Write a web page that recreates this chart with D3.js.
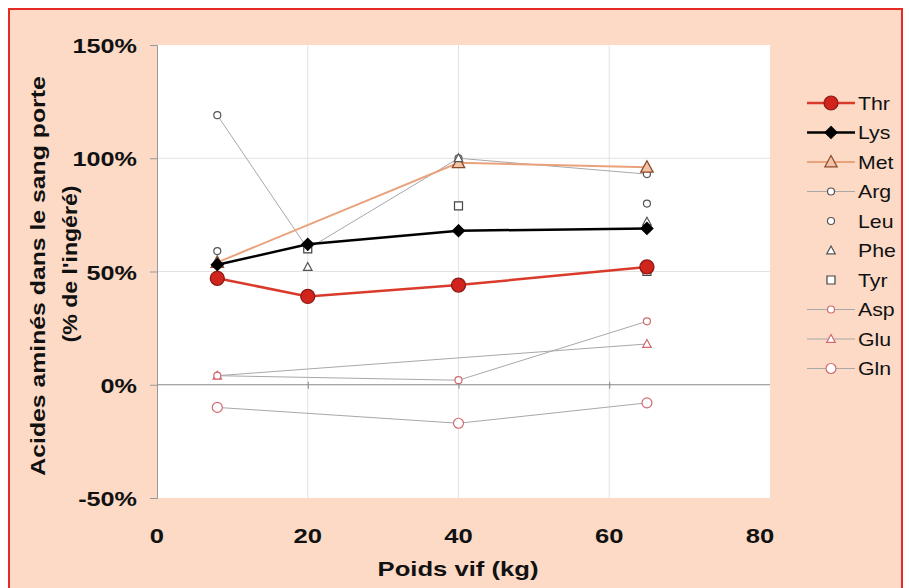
<!DOCTYPE html>
<html><head><meta charset="utf-8">
<script src="https://cdn.jsdelivr.net/npm/d3@7"></script>
<style>body{margin:0;background:#fff}svg{display:block}text{font-family:"Liberation Sans",Arial,sans-serif}</style>
</head><body><svg id="c" width="909" height="588"></svg>
<script>
const xValues = [8, 20, 40, 65];
const xTicks = [0, 20, 40, 60, 80];
const yTicks = [-0.5, 0, 0.5, 1.0, 1.5];
const seriesNames = ["Thr","Lys","Met","Arg","Leu","Phe","Tyr","Asp","Glu","Gln"];
const thr = [0.47, 0.39, 0.44, 0.52];
const lys = [0.53, 0.62, 0.68, 0.69];
const met = [0.54, null, 0.98, 0.96];
const arg = [1.19, 0.60, 1.00, 0.93];
const leu = [0.59, null, null, 0.80];
const phe = [0.54, 0.52, 1.00, 0.72];
const tyr = [null, 0.60, 0.79, 0.50];
const asp = [0.04, null, 0.02, 0.28];
const glu = [0.04, null, null, 0.18];
const gln = [-0.10, null, -0.17, -0.08];
const xTitle = "Poids vif (kg)";
const yTitle1 = "Acides aminés dans le sang porte";
const yTitle2 = "(% de l'ingéré)";

const styles = {
  Thr:{values:thr, line:"#d93a2b", lw:2.5, shape:"circle", r:7, fill:"#d0241d", stroke:"#8a1a14"},
  Lys:{values:lys, line:"#000", lw:2.5, shape:"diamond", r:6, fill:"#000", stroke:"#000"},
  Met:{values:met, line:"#eaa27c", lw:2, shape:"triangle", r:6.5, fill:"#f3c3a8", stroke:"#8a4a2a"},
  Arg:{values:arg, line:"#a8a8a8", lw:1, shape:"circle", r:3.5, fill:"#fff", stroke:"#555"},
  Leu:{values:leu, line:null, shape:"circle", r:3.5, fill:"#fff", stroke:"#555"},
  Phe:{values:phe, line:null, shape:"triangle", r:4.5, fill:"#fff", stroke:"#555"},
  Tyr:{values:tyr, line:null, shape:"square", r:4, fill:"#fff", stroke:"#444"},
  Asp:{values:asp, line:"#a8a8a8", lw:1, shape:"circle", r:3.5, fill:"#fff", stroke:"#d06a72"},
  Glu:{values:glu, line:"#a8a8a8", lw:1, shape:"triangle", r:4.5, fill:"#fff", stroke:"#d06a72"},
  Gln:{values:gln, line:"#a8a8a8", lw:1, shape:"circle", r:5, fill:"#fff", stroke:"#d06a72"}
};

function stretch(sel, f){
  sel.each(function(){
    const L = this.getComputedTextLength();
    d3.select(this).attr("textLength", L*f).attr("lengthAdjust","spacingAndGlyphs");
  });
}

const svg = d3.select("#c");
svg.append("rect").attr("x",0).attr("y",0).attr("width",909).attr("height",588).attr("fill","#fff");
svg.append("rect").attr("x",9).attr("y",9).attr("width",893).attr("height",580)
  .attr("fill","#fcdac6").attr("stroke","#e52b24").attr("stroke-width",2);

const x = d3.scaleLinear().domain([0,80]).range([157,760]);
const y = d3.scaleLinear().domain([-0.5,1.5]).range([498,45]);

svg.append("rect").attr("x",157).attr("y",45).attr("width",613).attr("height",453).attr("fill","#fff");

svg.append("g").selectAll("line").data([20,40,60]).join("line")
  .attr("x1",d=>x(d)).attr("x2",d=>x(d)).attr("y1",45).attr("y2",498)
  .attr("stroke","#e2e2e2").attr("stroke-width",1);
svg.append("g").selectAll("line").data([0.5,1.0]).join("line")
  .attr("x1",157).attr("x2",770).attr("y1",d=>y(d)).attr("y2",d=>y(d))
  .attr("stroke","#e2e2e2").attr("stroke-width",1);

const fmt = d=>d3.format(".0%")(d).replace("−","-");
const yAxis = d3.axisLeft(y).tickValues(yTicks).tickFormat(fmt).tickSize(7).tickPadding(13);
const gy = svg.append("g").attr("transform","translate(157,0)").call(yAxis);
gy.select(".domain").attr("stroke","#999");
gy.selectAll(".tick line").attr("stroke","#999");
gy.selectAll("text").attr("font-size",21).attr("font-weight","bold").attr("fill","#111").attr("dy","0.36em");
stretch(gy.selectAll("text"), 1.2);

const gz = svg.append("g").attr("transform",`translate(0,${y(0)})`)
  .call(d3.axisBottom(x).tickValues([20,40,60]).tickSize(4).tickFormat(""));
gz.select(".domain").attr("stroke","#888").attr("d",`M157,0H770`);
gz.selectAll(".tick line").attr("stroke","#888").attr("y1",-3);

const xl = svg.append("g").selectAll("text").data(xTicks).join("text")
  .attr("x",d=>x(d)).attr("y",543).attr("text-anchor","middle")
  .attr("font-size",21).attr("font-weight","bold").attr("fill","#111").text(d=>d);
stretch(xl, 1.22);

const xt = svg.append("text").attr("x",458).attr("y",576).attr("text-anchor","middle")
  .attr("font-size",21).attr("font-weight","bold").attr("fill","#111").text(xTitle);
stretch(xt, 1.22);
const yt1 = svg.append("text").attr("transform","translate(45,276) rotate(-90)").attr("text-anchor","middle")
  .attr("font-size",21).attr("font-weight","bold").attr("fill","#111").text(yTitle1);
stretch(yt1, 1.18);
const yt2 = svg.append("text").attr("transform","translate(77,264) rotate(-90)").attr("text-anchor","middle")
  .attr("font-size",21).attr("font-weight","bold").attr("fill","#111").text(yTitle2);
stretch(yt2, 1.1);

function symPath(shape, r){
  if(shape==="circle") return d3.symbol(d3.symbolCircle, Math.PI*r*r)();
  if(shape==="diamond") return `M0,${-r}L${r},0L0,${r}L${-r},0Z`;
  if(shape==="triangle") return `M0,${-r}L${r*0.95},${r*0.75}L${-r*0.95},${r*0.75}Z`;
  if(shape==="square") return `M${-r},${-r}h${2*r}v${2*r}h${-2*r}Z`;
}

const order = ["Gln","Glu","Asp","Arg","Met","Leu","Phe","Tyr","Lys","Thr"];
const lineGen = d3.line().x(d=>x(d[0])).y(d=>y(d[1]));
order.forEach(name=>{
  const s = styles[name];
  const pts = xValues.map((xv,i)=>[xv, s.values[i]]).filter(d=>d[1]!==null);
  if(s.line){
    svg.append("path").datum(pts).attr("d",lineGen).attr("fill","none")
      .attr("stroke",s.line).attr("stroke-width",s.lw);
  }
});
order.forEach(name=>{
  const s = styles[name];
  const pts = xValues.map((xv,i)=>[xv, s.values[i]]).filter(d=>d[1]!==null);
  svg.append("g").selectAll("path").data(pts).join("path")
    .attr("transform",d=>`translate(${x(d[0])},${y(d[1])})`)
    .attr("d",symPath(s.shape,s.r)).attr("fill",s.fill).attr("stroke",s.stroke)
    .attr("stroke-width",name==="Thr"||name==="Met"?1.3:1.2);
});

const lg = svg.append("g");
seriesNames.forEach((name,i)=>{
  const s = styles[name];
  const ly = 103 + i*29.5;
  if(s.line){
    lg.append("line").attr("x1",807).attr("x2",855).attr("y1",ly).attr("y2",ly)
      .attr("stroke",s.line).attr("stroke-width",s.lw);
  }
  lg.append("path").attr("transform",`translate(831,${ly})`).attr("d",symPath(s.shape,s.r))
    .attr("fill",s.fill).attr("stroke",s.stroke).attr("stroke-width",1.2);
  const t = lg.append("text").attr("x",858).attr("y",ly+6.5).attr("font-size",18.5)
    .attr("fill","#111").text(name);
  stretch(t, 1.15);
});
</script></body></html>
